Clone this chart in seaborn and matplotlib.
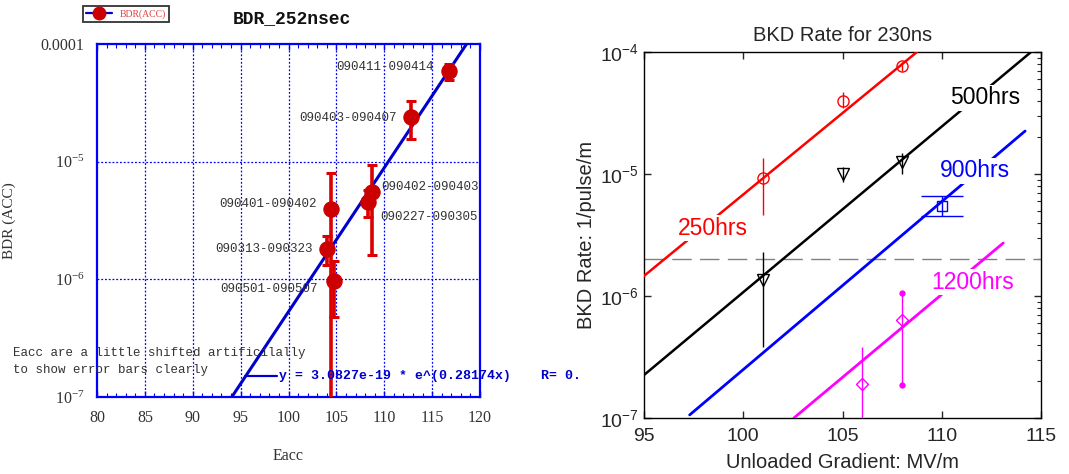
import numpy as np
import pandas as pd
import matplotlib
matplotlib.use("Agg")
import matplotlib.pyplot as plt
import seaborn as sns
from matplotlib.lines import Line2D
from matplotlib.ticker import FixedLocator, NullFormatter, LogLocator, NullLocator, FixedFormatter

# ---------------- data : left panel (BDR_252nsec) ----------------
left_labels = ["090411-090414", "090403-090407", "090401-090402", "090402-090403",
               "090227-090305", "090313-090323", "090501-090507"]
left_x = [116.8, 112.8, 104.4, 108.7, 108.3, 104.0, 104.75]
left_y = [5.9e-5, 2.4e-5, 3.96e-6, 5.5e-6, 4.55e-6, 1.81e-6, 9.7e-7]
left_hi = [6.8e-5, 3.3e-5, 8.0e-6, 9.4e-6, 5.8e-6, 2.35e-6, 1.44e-6]
left_lo = [4.9e-5, 1.55e-5, 1e-9, 1.62e-6, 3.4e-6, 1.32e-6, 4.8e-7]
fit_a = 3.0827e-19
fit_b = 0.28174
fit_x = [80.0, 120.0]
left_xticks = [80, 85, 90, 95, 100, 105, 110, 115, 120]
left_yticks = [1e-7, 1e-6, 1e-5, 1e-4]
left_yticklabels = [r"$\mathdefault{10^{-7}}$", r"$\mathdefault{10^{-6}}$",
                    r"$\mathdefault{10^{-5}}$", "0.0001"]

# ---------------- data : right panel (BKD Rate for 230ns) ----------------
r250_x = [101, 105, 108]
r250_y = [9.3e-6, 4.0e-5, 7.7e-5]
r250_hi = [1.36e-5, 4.7e-5, 8.3e-5]
r250_lo = [4.6e-6, 3.5e-5, 7.0e-5]

r500_x = [101, 105, 108]
r500_y = [1.35e-6, 1.0e-5, 1.25e-5]
r500_hi = [2.3e-6, 1.15e-5, 1.5e-5]
r500_lo = [3.8e-7, 8.6e-6, 1.0e-5]

r900_x = [110]
r900_y = [5.5e-6]
r900_hi = [6.6e-6]
r900_lo = [4.5e-6]

r1200_x = [106, 108]
r1200_y = [1.9e-7, 6.35e-7]
r1200_hi = [3.8e-7, 1.06e-6]
r1200_lo = [1e-9, 1.87e-7]

# fitted trend lines (start/end gradient, start/end rate)
trend_names = ["250hrs", "500hrs", "900hrs", "1200hrs"]
trend_x0 = [95.0, 95.0, 97.3, 102.55]
trend_x1 = [108.75, 114.5, 114.2, 113.1]
trend_y0 = [1.46e-6, 2.25e-7, 1.06e-7, 1.0e-7]
trend_y1 = [1.0e-4, 1.0e-4, 2.25e-5, 2.72e-6]
threshold = 2.0e-6

# ---------------- figure ----------------
sns.set_style("white")
plt.rcParams["font.family"] = ["Liberation Sans", "DejaVu Sans"]
W, H = 1069, 474
fig = plt.figure(figsize=(W / 100, H / 100), dpi=100)

def fx(px):
    return px / W

def fy(py):
    return 1 - py / H

# ===== left panel =====
BLUE = "#0000ff"
FITBLUE = "#0000cc"
RED = "#cc0000"
ax1 = fig.add_axes([fx(97), fy(397), fx(480) - fx(97), fy(44) - fy(397)])
ax1.set_yscale("log")
ax1.set_xlim(80, 120)
ax1.set_ylim(1e-7, 1e-4)

# fit line
xs = np.linspace(fit_x[0], fit_x[1], 200)
fit_df = pd.DataFrame({"x": xs, "y": fit_a * np.exp(fit_b * xs)})
sns.lineplot(data=fit_df, x="x", y="y", ax=ax1, color=FITBLUE, lw=2.2, zorder=3)

# error bars + points
ly = np.array(left_y)
ax1.errorbar(left_x, ly, yerr=[ly - np.array(left_lo), np.array(left_hi) - ly],
             fmt="none", ecolor="#dd0000", elinewidth=2.6, capsize=3.5, capthick=2.2, zorder=4)
ldf = pd.DataFrame({"x": left_x, "y": left_y})
sns.scatterplot(data=ldf, x="x", y="y", ax=ax1, color=RED, s=120, edgecolor=RED, zorder=5)

offsets = [(-16, 4, "right"), (-14, -1, "right"), (-14, 5, "right"), (9, 5, "left"),
           (12, -15, "left"), (-14, 0, "right"), (-16, -8, "right")]
for lab, x, y, (dx, dy, ha) in zip(left_labels, left_x, left_y, offsets):
    ax1.annotate(lab, (x, y), xytext=(dx, dy), textcoords="offset pixels",
                 ha=ha, va="center", fontsize=9, family="Liberation Mono", color="#333333")

# grid, spines, ticks
for v in left_xticks[1:-1]:
    ax1.axvline(v, color=BLUE, ls=(0, (1.5, 1.5)), lw=0.9, zorder=1)
for v in left_yticks[1:-1]:
    ax1.axhline(v, color=BLUE, ls=(0, (1.5, 1.5)), lw=0.9, zorder=1)
for s in ax1.spines.values():
    s.set_color(BLUE)
    s.set_linewidth(1.6)
ax1.xaxis.set_major_locator(FixedLocator(left_xticks))
ax1.xaxis.set_minor_locator(FixedLocator(np.arange(80, 121, 1)))
ax1.yaxis.set_major_locator(FixedLocator(left_yticks))
ax1.yaxis.set_major_formatter(FixedFormatter(left_yticklabels))
ax1.yaxis.set_minor_locator(NullLocator())
ax1.tick_params(axis="x", which="both", direction="in", top=True, bottom=True, color=BLUE)
ax1.tick_params(axis="x", which="major", length=4, width=1)
ax1.tick_params(axis="x", which="minor", length=3, width=0.8)
ax1.tick_params(axis="y", which="major", direction="in", length=0)
ax1.tick_params(axis="both", labelsize=11.5, labelcolor="#333333", pad=9)
for t in ax1.get_xticklabels() + ax1.get_yticklabels():
    t.set_family("Liberation Serif")
ax1.set_xlabel("Eacc", family="Liberation Serif", fontsize=11.5, color="#333333")
ax1.set_ylabel("BDR (ACC)", family="Liberation Serif", fontsize=11, color="#333333")
ax1.xaxis.set_label_coords(0.5, -(448 - 397) / 353)
ax1.yaxis.set_label_coords(-(97 - 16) / 383, 0.5)

fig.text(fx(292), fy(19), "BDR_252nsec", ha="center", va="center", fontsize=13,
         family="Liberation Mono", weight="bold", color="#111111")

leg = fig.legend(handles=[Line2D([], [], color=FITBLUE, lw=1.6, marker="o", ms=9,
                                 mfc=RED, mec=RED)],
                 labels=["BDR(ACC)"], loc="upper left",
                 bbox_to_anchor=(fx(83), fy(6)), frameon=True, fancybox=False,
                 edgecolor="black", fontsize=7, handlelength=2.6, borderpad=0.35,
                 borderaxespad=0, prop={"family": "Liberation Serif", "size": 7})
leg.get_frame().set_linewidth(1.3)
for t in leg.get_texts():
    t.set_color("#dd4444")

fig.text(fx(13), fy(353), "Eacc are a little shifted artificilally", fontsize=9,
         family="Liberation Mono", color="#333333", va="center", ha="left")
fig.text(fx(13), fy(370), "to show error bars clearly", fontsize=9,
         family="Liberation Mono", color="#333333", va="center", ha="left")
fig.add_artist(Line2D([fx(245), fx(277)], [fy(376), fy(376)], color=FITBLUE, lw=1.6))
fig.text(fx(279), fy(376), "y = 3.0827e-19 * e^(0.28174x)", fontsize=9.5,
         family="Liberation Mono", weight="bold", color=FITBLUE, va="center", ha="left")
fig.text(fx(541), fy(376), "R= 0.", fontsize=9.5,
         family="Liberation Mono", weight="bold", color=FITBLUE, va="center", ha="left")

# ===== right panel =====
ax2 = fig.add_axes([fx(644), fy(418), fx(1041) - fx(644), fy(52) - fy(418)])
ax2.set_yscale("log")
ax2.set_xlim(95, 115)
ax2.set_ylim(1e-7, 1e-4)

trend_colors = ["#ff0000", "#000000", "#0000ff", "#ff00ff"]
trend_lw = [1.8, 1.8, 2.0, 2.0]
for name, x0, x1, y0, y1, c, lw in zip(trend_names, trend_x0, trend_x1, trend_y0, trend_y1,
                                        trend_colors, trend_lw):
    tdf = pd.DataFrame({"x": [x0, x1], "y": [y0, y1]})
    sns.lineplot(data=tdf, x="x", y="y", ax=ax2, color=c, lw=lw, zorder=3)

ax2.axhline(threshold, color="#808080", lw=1.0, dashes=(14, 6), zorder=2)

def eb(ax, x, y, lo, hi, color, marker, ms, capsize=0):
    y = np.array(y)
    ax.errorbar(x, y, yerr=[y - np.array(lo), np.array(hi) - y], fmt=marker, ms=ms,
                mfc="none", mec=color, mew=1.0, ecolor=color, elinewidth=1.0,
                capsize=capsize, capthick=1.0, color=color, zorder=5)

eb(ax2, r250_x, r250_y, r250_lo, r250_hi, "#ff0000", "o", 8)
eb(ax2, r500_x, r500_y, r500_lo, r500_hi, "#000000", "v", 8)
eb(ax2, r900_x, r900_y, r900_lo, r900_hi, "#0000ff", "s", 7, capsize=15)
eb(ax2, r1200_x, r1200_y, r1200_lo, r1200_hi, "#ff00ff", "D", 6.5)
# dot ends on the 1200hrs error bar at 108
ax2.plot([r1200_x[1], r1200_x[1]], [r1200_lo[1], r1200_hi[1]], ls="none", marker="o",
         ms=3.5, color="#ff00ff", zorder=5)

label_pos = [(96.71, 3.6e-6), (110.42, 4.2e-5), (109.91, 1.06e-5), (109.46, 1.3e-6)]
for name, (lx, lyv), c in zip(trend_names, label_pos, trend_colors):
    ax2.text(lx, lyv, name, color=c, fontsize=16.5, ha="left", va="center",
             bbox=dict(facecolor="white", edgecolor="none", pad=1.0), zorder=4)

for s in ax2.spines.values():
    s.set_color("black")
    s.set_linewidth(1.0)
ax2.xaxis.set_major_locator(FixedLocator([95, 100, 105, 110, 115]))
ax2.xaxis.set_minor_locator(NullLocator())
ax2.yaxis.set_major_locator(LogLocator(base=10, numticks=10))
ax2.yaxis.set_minor_locator(LogLocator(base=10, subs=np.arange(2, 10), numticks=20))
ax2.yaxis.set_minor_formatter(NullFormatter())
ax2.tick_params(axis="both", which="both", direction="in", top=True, right=True,
                bottom=True, left=True)
ax2.tick_params(axis="both", which="major", length=5, width=1.0, labelsize=14)
ax2.tick_params(axis="x", which="major", pad=7)
ax2.tick_params(axis="both", which="minor", length=3, width=0.8)
ax2.tick_params(axis="y", which="minor", left=False)
ax2.set_xlabel("Unloaded Gradient: MV/m", fontsize=14.5, labelpad=6)
ax2.set_ylabel("BKD Rate: 1/pulse/m", fontsize=14.5, labelpad=3)
ax2.set_title("BKD Rate for 230ns", fontsize=14.5, pad=8)

fig.savefig("out.png", dpi=100)
